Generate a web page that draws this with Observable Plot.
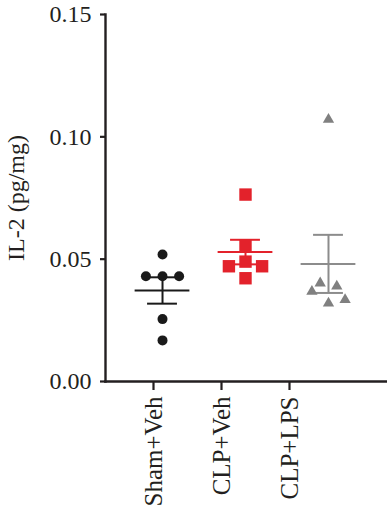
<!DOCTYPE html>
<html><head><meta charset="utf-8">
<script src="https://cdn.jsdelivr.net/npm/d3@7"></script>
<script src="https://cdn.jsdelivr.net/npm/@observablehq/plot@0.6"></script>
<style>
body{margin:0;background:#fff;}
#chart{position:relative;width:387px;height:512px;overflow:hidden;}
#chart svg{position:absolute;left:0;top:0;}
</style></head><body><div id="chart"></div>
<script>
// Categories
const groups = ["Sham+Veh", "CLP+Veh", "CLP+LPS"];
// Y axis ticks
const yTicks = [0, 0.05, 0.10, 0.15];
const yLabel = "IL-2 (pg/mg)";
// Individual values per group (pg/mg)
const shamVeh = [0.0519, 0.0430, 0.0430, 0.0430, 0.0255, 0.0168];
const clpVeh  = [0.0764, 0.0556, 0.0490, 0.0471, 0.0471, 0.0422];
const clpLps  = [0.1071, 0.0402, 0.0368, 0.0389, 0.0320, 0.0334];
// Scatter column slot of each point inside its group (beeswarm placement)
const shamSlot = [0, -2, 0, 2, 0, 0];
const clpVehSlot = [0, 0, 0, -2, 2, 0];
const clpLpsSlot = [0, -1, -2, 1, 0, 2];
// Group colours and symbols
const colors = ["#1a1a1a", "#e3222b", "#808080"];
const lineColors = ["#1a1a1a", "#e3222b", "#8c8c8c"];
const symbols = ["circle", "square", "triangle"];
const radii = [5, 7, 4.2];

const series = [shamVeh, clpVeh, clpLps];
const slots = [shamSlot, clpVehSlot, clpLpsSlot];

const points = [];
series.forEach((vals, gi) => vals.forEach((v, j) => points.push({g: gi, value: v, slot: slots[gi][j]})));

const summary = series.map((vals, gi) => {
  const m = d3.mean(vals);
  const sem = d3.deviation(vals) / Math.sqrt(vals.length);
  return {g: gi, mean: m, lo: m - sem, hi: m + sem};
});

const W = 387, H = 512;
const M = {marginLeft: 105, marginRight: 0, marginTop: 14, marginBottom: 131};
const font = "'Liberation Serif', 'Times New Roman', serif";
const ink = "#231f20";

const marks = [
  Plot.axisY(yTicks, {tickSize: 5, tickPadding: 9, tickFormat: d3.format(".2f"), strokeWidth: 2.2, fontSize: 24, label: null, stroke: ink}),
  Plot.frame({anchor: "left", strokeWidth: 2.4, stroke: ink}),
  Plot.frame({anchor: "bottom", strokeWidth: 2.4, stroke: ink}),
  Plot.text([yLabel], {frameAnchor: "left", textAnchor: "middle", rotate: -90, dx: -89, text: d => d, fontSize: 24, fill: ink})
];
summary.forEach((s, gi) => {
  const c = lineColors[gi];
  marks.push(
    Plot.ruleX([s], {x: "g", y1: "lo", y2: "hi", stroke: c, strokeWidth: 2}),
    Plot.ruleY([s], {y: "mean", x1: d => d.g - 0.33, x2: d => d.g + 0.33, stroke: c, strokeWidth: 2}),
    Plot.ruleY([s], {y: "hi", x1: d => d.g - 0.18, x2: d => d.g + 0.18, stroke: c, strokeWidth: 2}),
    Plot.ruleY([s], {y: "lo", x1: d => d.g - 0.18, x2: d => d.g + 0.18, stroke: c, strokeWidth: 2})
  );
});
groups.forEach((name, gi) => {
  marks.push(Plot.dot(points.filter(p => p.g === gi), {
    x: d => d.g + d.slot * 0.1, y: "value", symbol: symbols[gi], r: radii[gi], fill: colors[gi], stroke: "none"
  }));
});

const main = Plot.plot({
  width: W, height: H, ...M,
  style: {fontFamily: font, fontSize: "24px", color: ink, background: "transparent"},
  x: {type: "linear", domain: [-0.687, 2.711], axis: null},
  y: {domain: [0, 0.15], axis: null},
  marks
});

const axisPlot = Plot.plot({
  width: W, height: H, ...M,
  style: {fontFamily: font, fontSize: "25px", color: ink, background: "transparent"},
  x: {type: "point", domain: groups, range: [153, 289], padding: 0},
  marks: [Plot.axisX({tickSize: 9, tickRotate: -90, tickPadding: 6, strokeWidth: 2.2, fontSize: 25, label: null, stroke: ink})]
});

const el = document.getElementById("chart");
el.appendChild(main);
el.appendChild(axisPlot);
</script></body></html>
